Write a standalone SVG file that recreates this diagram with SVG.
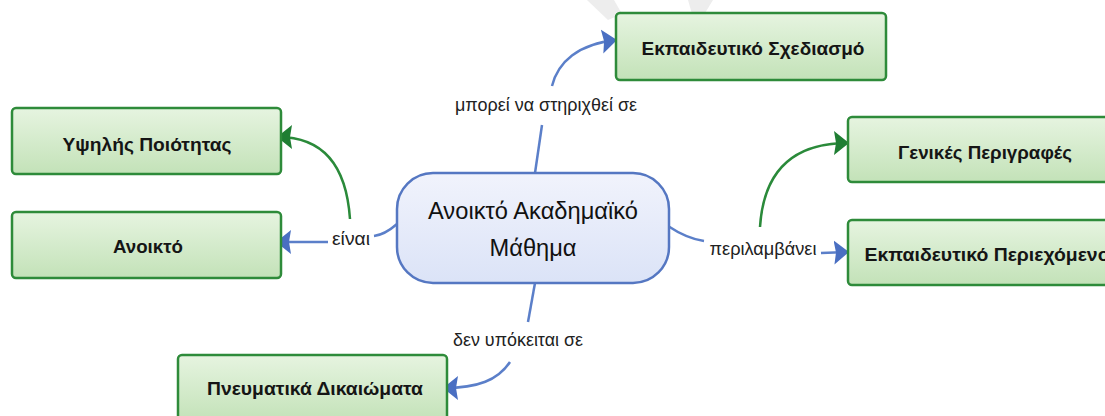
<svg xmlns="http://www.w3.org/2000/svg" width="1105" height="416" viewBox="0 0 1105 416">
<style>
.node{fill:url(#gFill);stroke:#2e8b3a;stroke-width:2.5}
.ntxt{font-family:"Liberation Sans",Arial,sans-serif;font-weight:bold;font-size:19px;fill:#151515;text-anchor:middle}
.ctxt{font-family:"Liberation Sans",Arial,sans-serif;font-size:23px;fill:#111;text-anchor:middle}
.lbl{font-family:"Liberation Sans",Arial,sans-serif;font-size:17.5px;fill:#222;text-anchor:middle}
.blue{fill:none;stroke:#5b7fc9;stroke-width:2.5}
.green{fill:none;stroke:#2a8a3a;stroke-width:2.5}
.wm{fill:#ededed}
</style>
<defs>
<linearGradient id="gFill" x1="0" y1="0" x2="0" y2="1">
<stop offset="0" stop-color="#e6f4e0"/>
<stop offset="1" stop-color="#c3e2b8"/>
</linearGradient>
<linearGradient id="cFill" x1="0" y1="0" x2="0" y2="1">
<stop offset="0" stop-color="#f1f3fc"/>
<stop offset="1" stop-color="#dbe3f7"/>
</linearGradient>
<marker id="ab" markerUnits="userSpaceOnUse" viewBox="0 -13 15 26" markerWidth="15" markerHeight="26" refX="14" refY="0" orient="auto">
<path d="M0,-12 L15,0 L0,12 L2,0 z" fill="#4a6fc2"/>
</marker>
<marker id="ag" markerUnits="userSpaceOnUse" viewBox="0 -13 15 26" markerWidth="15" markerHeight="26" refX="14" refY="0" orient="auto">
<path d="M0,-12 L15,0 L0,12 L2,0 z" fill="#1f7e33"/>
</marker>
</defs>
<rect width="1105" height="416" fill="#ffffff"/>
<polygon class="wm" points="587,0 614,0 622,14 608,20"/>
<polygon class="wm" points="688,0 713,0 702,18 692,14"/>

<g id="connectors">
<path class="blue" d="M535,173 L542,125"/>
<path class="blue" d="M552,86 C558,62 578,44 616,40" marker-end="url(#ab)"/>
<path class="blue" d="M397,224 C389,231 382,235 374,236"/>
<path class="blue" d="M328,242 L277,242" marker-end="url(#ab)"/>
<path class="green" d="M350,219 C347,175 330,137 278,137" marker-end="url(#ag)"/>
<path class="blue" d="M668,226 C680,234 690,239 704,241"/>
<path class="blue" d="M821,253 L848,252" marker-end="url(#ab)"/>
<path class="green" d="M760,227 C763,180 785,143 848,143" marker-end="url(#ag)"/>
<path class="blue" d="M535,283 L528,322"/>
<path class="blue" d="M510,362 C498,380 478,388 444,388" marker-end="url(#ab)"/>
<text class="lbl" x="546" y="111" textLength="182" lengthAdjust="spacingAndGlyphs">μπορεί να στηριχθεί σε</text>
<text class="lbl" x="351" y="245" textLength="38" lengthAdjust="spacingAndGlyphs">είναι</text>
<text class="lbl" x="763" y="255" textLength="107" lengthAdjust="spacingAndGlyphs">περιλαμβάνει</text>
<text class="lbl" x="518" y="346" textLength="130" lengthAdjust="spacingAndGlyphs">δεν υπόκειται σε</text>
</g>

<g id="center">
<rect x="397" y="173" width="272" height="110" rx="36" ry="36" fill="url(#cFill)" stroke="#5577c2" stroke-width="2.5"/>
<text class="ctxt" x="533" y="219" textLength="210" lengthAdjust="spacingAndGlyphs">Ανοικτό Ακαδημαϊκό</text>
<text class="ctxt" x="533" y="256" textLength="87" lengthAdjust="spacingAndGlyphs">Μάθημα</text>
</g>

<g id="n-sxediasmo">
<rect class="node" x="616" y="13" width="270" height="67" rx="4"/>
<text class="ntxt" x="753" y="55" textLength="223" lengthAdjust="spacingAndGlyphs">Εκπαιδευτικό Σχεδιασμό</text>
</g>
<g id="n-ypsilis">
<rect class="node" x="12" y="108" width="269" height="66" rx="4"/>
<text class="ntxt" x="147" y="151" textLength="169" lengthAdjust="spacingAndGlyphs">Υψηλής Ποιότητας</text>
</g>
<g id="n-anoikto">
<rect class="node" x="12" y="212" width="269" height="66" rx="4"/>
<text class="ntxt" x="148" y="253" textLength="70" lengthAdjust="spacingAndGlyphs">Ανοικτό</text>
</g>
<g id="n-genikes">
<rect class="node" x="848" y="117" width="274" height="65" rx="4"/>
<text class="ntxt" x="985" y="159" textLength="174" lengthAdjust="spacingAndGlyphs">Γενικές Περιγραφές</text>
</g>
<g id="n-periexomeno">
<rect class="node" x="848" y="220" width="274" height="65" rx="4"/>
<text class="ntxt" x="987" y="261" textLength="245" lengthAdjust="spacingAndGlyphs">Εκπαιδευτικό Περιεχόμενο</text>
</g>
<g id="n-pneumatika">
<rect class="node" x="178" y="355" width="269" height="67" rx="4"/>
<text class="ntxt" x="315" y="395" textLength="216" lengthAdjust="spacingAndGlyphs">Πνευματικά Δικαιώματα</text>
</g>
</svg>
